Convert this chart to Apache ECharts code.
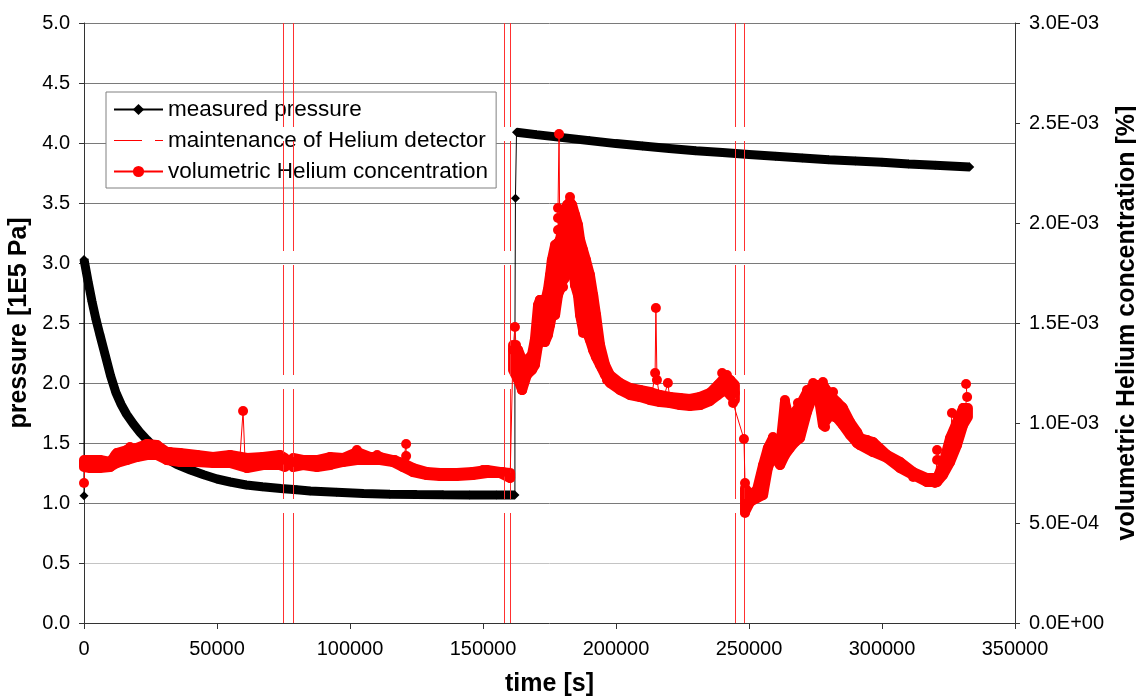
<!DOCTYPE html>
<html><head><meta charset="utf-8">
<script src="https://cdn.jsdelivr.net/npm/echarts@6/dist/echarts.min.js"></script>
<style>html,body{margin:0;padding:0;background:#fff}#chart{width:1136px;height:700px}</style>
</head><body><div id="chart"></div>
<script>
// ---------- measured pressure [1E5 Pa] ----------
const pOutT = [0];
const pOutV = [1.06];
const pDecayT = [0,1500,3000,4500,6000,8000,10000,12000,14000,16000,18500,21000,23700,27000,31000,35000,40000,45000,50000,55000,61000,67000,74000,80000,85000,95000,105000,115000,125000,135000,145000,155000,162000];
const pDecayV = [3.03,2.85,2.68,2.53,2.40,2.23,2.06,1.92,1.82,1.74,1.66,1.59,1.525,1.45,1.37,1.32,1.275,1.235,1.20,1.175,1.15,1.135,1.12,1.11,1.10,1.09,1.08,1.073,1.07,1.068,1.067,1.067,1.067];
const pJumpT = [162000,162200];
const pJumpV = [2.32,3.54];
const pPlatT = [162600,170000,180000,190000,200000,210000,220000,230000,240000,250000,260000,270000,280000,290000,300000,310000,320000,333000];
const pPlatV = [4.09,4.07,4.045,4.02,3.995,3.975,3.955,3.935,3.92,3.905,3.89,3.875,3.86,3.85,3.84,3.825,3.815,3.80];

// ---------- maintenance of Helium detector [s] ----------
const maintTimes = [75000,78700,157900,160200,244700,248200];

// ---------- volumetric Helium concentration [%] ----------
const heT = [
 0,400,6000,11700,17300,24800,32300,43600,54900,58600,59800,60500,66200,73700,75600,
 78600,85000,93600,102600,110200,116900,119900,121100,121100,123700,131200,140200,150000,157500,160200,
 161300,162000,162400,163200,163900,164700,165800,167700,168800,169500,170700,171400,172200,173300,174100,175200,175900,177100,177800,
 178200,178200,178200,178200,178600,178900,180100,180800,181600,182700,183500,183800,184600,185700,186500,187600,188700,190200,191000,
 192100,193200,194700,196600,198500,200400,202600,205300,207900,209800,211700,213500,214700,215000,215400,216500,217700,219500,220300,
 222200,224100,225900,227800,230500,232700,235300,237200,239100,239900,241700,242900,243600,244700,244000,248100,
 248500,248500,250400,253000,255300,256800,257900,259000,261700,263500,264700,266500,268400,270300,271800,274100,277800,278600,281600,
 282300,285000,287200,290600,294400,298100,301900,306800,311700,316900,319900,320700,320700,322900,325600,326300,328200,330100,331200,332000,331600
];
const heC = [
 7.0e-4,8.05e-4,8.1e-4,8.4e-4,8.8e-4,8.9e-4,8.55e-4,8.35e-4,8.15e-4,8.25e-4,10.6e-4,8.25e-4,8.25e-4,8.3e-4,8.15e-4,
 8.05e-4,7.9e-4,8.25e-4,8.65e-4,8.4e-4,8.15e-4,7.9e-4,8.95e-4,8.35e-4,7.65e-4,7.4e-4,7.4e-4,7.65e-4,7.55e-4,7.25e-4,
 13.65e-4,14.8e-4,13.9e-4,12.9e-4,12.15e-4,11.65e-4,12.55e-4,12.8e-4,13.05e-4,13.65e-4,14.65e-4,16.15e-4,15.15e-4,14.15e-4,14.5e-4,16.15e-4,17.0e-4,16.15e-4,18.15e-4,
 19.0e-4,19.65e-4,20.25e-4,20.75e-4,24.45e-4,18.65e-4,16.8e-4,18.65e-4,20.15e-4,21.3e-4,20.4e-4,19.0e-4,17.65e-4,18.8e-4,17.15e-4,14.5e-4,15.15e-4,16.15e-4,16.3e-4,
 13.65e-4,13.15e-4,12.75e-4,12.15e-4,12.0e-4,11.8e-4,11.65e-4,11.55e-4,11.5e-4,11.5e-4,11.5e-4,11.4e-4,12.5e-4,15.75e-4,12.15e-4,11.25e-4,11.15e-4,12.0e-4,11.15e-4,
 11.05e-4,11.0e-4,10.95e-4,10.9e-4,10.9e-4,11.0e-4,11.15e-4,11.4e-4,11.8e-4,12.5e-4,12.4e-4,12.15e-4,12.0e-4,11.5e-4,11.0e-4,9.2e-4,
 7.0e-4,5.5e-4,6.15e-4,6.5e-4,6.8e-4,7.8e-4,8.65e-4,9.3e-4,8.15e-4,11.15e-4,9.3e-4,9.8e-4,11.0e-4,10.65e-4,11.65e-4,12.0e-4,12.05e-4,9.8e-4,11.55e-4,
 10.3e-4,10.8e-4,10.0e-4,9.0e-4,9.15e-4,8.8e-4,8.3e-4,8.0e-4,7.3e-4,7.05e-4,7.0e-4,8.15e-4,8.65e-4,7.8e-4,8.8e-4,10.5e-4,9.8e-4,10.3e-4,10.75e-4,11.3e-4,11.95e-4
];

// scatter envelope of the dense helium readings (null = gap at maintenance)
const bandT = [
 0,2300,6000,9800,12400,16200,19900,23700,27400,31200,36100,42500,48500,54900,61300,67300,73700,75600,null,
 78600,82300,87600,92500,97400,102600,107500,111300,116200,119900,123700,128900,133800,140200,146200,151500,156400,160200,null,
 161300,163200,164700,166500,168400,169500,170700,171400,172600,173300,174400,175200,175900,177100,178200,178900,180100,180800,181600,
 182700,183500,184600,185700,186500,187600,188700,190200,191400,192500,194000,195900,197700,201500,205300,209000,212800,216500,220300,
 224100,227800,231600,235300,238300,241000,242900,244700,null,
 248500,250400,253000,255300,257100,259000,261700,263500,265400,267300,269200,271800,273700,275900,277800,280500,283100,285300,288000,
 290600,291700,296600,301900,306800,311700,316900,320700,322900,325600,328200,330500,332300
];
const bandLo = [
 7.8e-4,7.75e-4,7.75e-4,7.8e-4,8.0e-4,8.15e-4,8.3e-4,8.4e-4,8.4e-4,8.15e-4,8.05e-4,8.05e-4,8.0e-4,8.0e-4,7.75e-4,7.9e-4,7.9e-4,7.8e-4,null,
 7.8e-4,7.9e-4,7.8e-4,7.9e-4,8.05e-4,8.15e-4,8.15e-4,8.15e-4,8.05e-4,7.8e-4,7.55e-4,7.4e-4,7.35e-4,7.35e-4,7.4e-4,7.5e-4,7.5e-4,7.25e-4,null,
 12.65e-4,12.15e-4,11.65e-4,12.4e-4,12.65e-4,12.9e-4,13.9e-4,14.15e-4,14.15e-4,14.05e-4,14.4e-4,14.9e-4,15.4e-4,15.4e-4,16.4e-4,16.65e-4,17.15e-4,17.25e-4,17.9e-4,
 18.9e-4,18.4e-4,16.9e-4,16.4e-4,15.4e-4,14.65e-4,14.65e-4,14.15e-4,13.65e-4,13.3e-4,12.9e-4,12.4e-4,12.0e-4,11.65e-4,11.4e-4,11.3e-4,11.15e-4,11.05e-4,11.0e-4,
 10.9e-4,10.85e-4,10.9e-4,11.1e-4,11.4e-4,11.65e-4,11.4e-4,11.15e-4,null,
 5.55e-4,6.05e-4,6.25e-4,6.4e-4,7.75e-4,8.4e-4,7.9e-4,8.4e-4,8.75e-4,9.05e-4,9.25e-4,10.55e-4,11.25e-4,11.55e-4,9.9e-4,10.4e-4,10.25e-4,9.9e-4,9.4e-4,
 9.0e-4,8.9e-4,8.55e-4,8.25e-4,7.75e-4,7.4e-4,7.05e-4,7.05e-4,7.4e-4,8.05e-4,8.9e-4,9.9e-4,10.3e-4
];
const bandHi = [
 8.15e-4,8.15e-4,8.15e-4,8.05e-4,8.5e-4,8.65e-4,8.75e-4,8.95e-4,8.9e-4,8.55e-4,8.5e-4,8.4e-4,8.3e-4,8.4e-4,8.25e-4,8.3e-4,8.4e-4,8.25e-4,null,
 8.25e-4,8.15e-4,8.15e-4,8.3e-4,8.25e-4,8.55e-4,8.3e-4,8.3e-4,8.15e-4,8.0e-4,7.75e-4,7.55e-4,7.5e-4,7.5e-4,7.55e-4,7.65e-4,7.55e-4,7.5e-4,null,
 13.9e-4,13.65e-4,13.15e-4,13.15e-4,13.4e-4,14.15e-4,15.9e-4,16.15e-4,16.15e-4,16.05e-4,16.65e-4,17.4e-4,18.15e-4,18.9e-4,19.0e-4,19.15e-4,19.9e-4,20.65e-4,20.9e-4,
 21.05e-4,20.9e-4,20.4e-4,19.9e-4,19.15e-4,18.65e-4,18.15e-4,17.4e-4,16.4e-4,15.4e-4,13.9e-4,12.9e-4,12.4e-4,12.0e-4,11.75e-4,11.65e-4,11.55e-4,11.4e-4,11.3e-4,
 11.25e-4,11.2e-4,11.3e-4,11.5e-4,11.9e-4,12.3e-4,12.15e-4,11.9e-4,null,
 6.75e-4,6.4e-4,6.65e-4,7.9e-4,8.75e-4,9.25e-4,8.75e-4,11.05e-4,10.05e-4,10.55e-4,10.9e-4,11.55e-4,11.8e-4,11.9e-4,11.9e-4,11.4e-4,11.05e-4,10.75e-4,10.05e-4,
 9.55e-4,9.25e-4,9.05e-4,8.4e-4,8.05e-4,7.55e-4,7.25e-4,7.25e-4,7.9e-4,9.25e-4,10.05e-4,10.75e-4,10.75e-4
];

const FONT = '"Liberation Sans", Arial, sans-serif';
const zip = (t, v) => t.map((x, i) => [x, v[i]]);

const pressureMain = [].concat(zip(pOutT,pOutV), zip(pDecayT,pDecayV), zip(pJumpT,pJumpV), zip(pPlatT,pPlatV));
const heMain = zip(heT, heC);
const bandRows = [];
for (let i = 0; i < bandT.length - 1; i++) {
  if (bandT[i] == null || bandT[i+1] == null) continue;
  bandRows.push([bandT[i], bandLo[i], bandHi[i], bandT[i+1], bandLo[i+1], bandHi[i+1]]);
}

function sciFmt(v) {
  if (Math.abs(v) < 1e-12) return '0.0E+00';
  const e = Math.floor(Math.log10(v) + 1e-9);
  const m = v / Math.pow(10, e);
  return m.toFixed(1) + 'E' + (e < 0 ? '-' : '+') + String(Math.abs(e)).padStart(2, '0');
}

const gridColors = ['#c4c4c4','#7a7a7a','#7a7a7a','#7a7a7a','#7a7a7a','#7a7a7a','#7a7a7a','#7a7a7a','#7a7a7a','#7a7a7a'];
const labelStyle = {fontFamily: FONT, fontSize: 20, color: '#000'};
const nameStyle = {fontFamily: FONT, fontSize: 25, fontWeight: 'bold', color: '#000'};

const chart = echarts.init(document.getElementById('chart'));
chart.setOption({
  animation: false,
  backgroundColor: '#fff',
  grid: {left: 84, right: 121, top: 23, bottom: 77, outerBoundsMode: 'none', containLabel: false},
  legend: {
    data: ['measured pressure',
           {name: 'maintenance of Helium detector', icon: 'path://M0,6.5H28V7.5H0Z M41,6.5H49V7.5H41Z M0,0H0.01V0.01H0Z M48.99,13.99H49V14H48.99Z'},
           'volumetric Helium concentration'],
    orient: 'vertical', left: 106, top: 92,
    itemWidth: 49, itemHeight: 14, itemGap: 8,
    padding: [6, 8, 5, 7],
    backgroundColor: '#fff', borderColor: '#808080', borderWidth: 1, borderRadius: 0,
    textStyle: {fontFamily: FONT, fontSize: 22.5, color: '#000', lineHeight: 20},
    selectedMode: false
  },
  xAxis: {
    type: 'value', min: 0, max: 350000, interval: 50000,
    name: 'time [s]', nameLocation: 'middle', nameGap: 49, nameTextStyle: nameStyle,
    axisLine: {show: true, lineStyle: {color: '#333', width: 1}},
    axisTick: {show: true, inside: false, length: 6, lineStyle: {color: '#333'}},
    axisLabel: Object.assign({margin: 16, formatter: v => String(v)}, labelStyle),
    splitLine: {show: false}
  },
  yAxis: [{
    type: 'value', min: 0, max: 5, interval: 0.5, position: 'left',
    name: 'pressure [1E5 Pa]', nameLocation: 'middle', nameGap: 52, nameRotate: 90, nameTextStyle: nameStyle,
    axisLine: {show: true, lineStyle: {color: '#333', width: 1}},
    axisTick: {show: true, inside: false, length: 5, lineStyle: {color: '#333'}},
    axisLabel: Object.assign({margin: 14, formatter: v => v.toFixed(1)}, labelStyle),
    splitLine: {show: true, showMinLine: false, lineStyle: {color: gridColors, width: 1}}
  }, {
    type: 'value', min: 0, max: 0.003, interval: 0.0005, position: 'right',
    name: 'volumetric Helium concentration [%]', nameLocation: 'middle', nameGap: 97, nameRotate: 90, nameTextStyle: nameStyle,
    axisLine: {show: true, lineStyle: {color: '#333', width: 1}},
    axisTick: {show: true, inside: false, length: 5, lineStyle: {color: '#333'}},
    axisLabel: Object.assign({margin: 14, formatter: sciFmt}, labelStyle),
    splitLine: {show: false}
  }],
  series: [
    {
      name: 'maintenance of Helium detector', type: 'line', data: [], z: 1,
      symbol: 'none', itemStyle: {color: '#ff0000'},
      lineStyle: {color: '#ff0000', width: 1, type: [28, 13]},
      markLine: {
        silent: true, symbol: ['none', 'none'], label: {show: false}, animation: false,
        lineStyle: {color: '#ff3030', width: 1, type: [110, 14]},
        emphasis: {disabled: true},
        data: maintTimes.map(t => ({xAxis: t}))
      }
    },
    {
      name: 'pressure-decay-band', type: 'line', z: 2, silent: true, showSymbol: false, symbol: 'none',
      data: zip(pDecayT, pDecayV), lineStyle: {color: '#000', width: 9}, itemStyle: {color: '#000'}
    },
    {
      name: 'pressure-plateau-band', type: 'line', z: 2, silent: true, showSymbol: false, symbol: 'none',
      data: zip(pPlatT, pPlatV), lineStyle: {color: '#000', width: 9}, itemStyle: {color: '#000'}
    },
    {
      name: 'measured pressure', type: 'line', z: 3, data: pressureMain,
      symbol: 'diamond', symbolSize: 9, showSymbol: true, showAllSymbol: true,
      lineStyle: {color: '#000', width: 1}, itemStyle: {color: '#000'}
    },
    {
      name: 'helium-band', type: 'custom', yAxisIndex: 1, z: 4, silent: true,
      data: bandRows, encode: {x: [0, 3], y: [1, 2, 4, 5]},
      renderItem: function (params, api) {
        const a = api.coord([api.value(0), api.value(1)]);
        const b = api.coord([api.value(0), api.value(2)]);
        const c = api.coord([api.value(3), api.value(5)]);
        const d = api.coord([api.value(3), api.value(4)]);
        return {type: 'polygon', shape: {points: [a, b, c, d]},
                style: {fill: '#ff0000', stroke: '#ff0000', lineWidth: 10, lineJoin: 'round'}};
      }
    },
    {
      name: 'volumetric Helium concentration', type: 'line', yAxisIndex: 1, z: 5, data: heMain,
      symbol: 'circle', symbolSize: 10, showSymbol: true, showAllSymbol: true,
      lineStyle: {color: '#ff0000', width: 1}, itemStyle: {color: '#ff0000'}
    }
  ]
});
</script></body></html>
